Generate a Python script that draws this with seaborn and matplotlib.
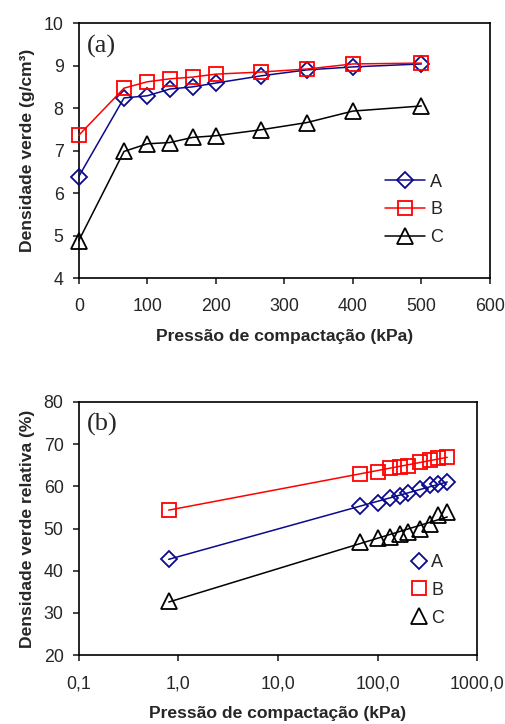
import matplotlib
matplotlib.use("Agg")
import matplotlib.pyplot as plt
from matplotlib.lines import Line2D
import seaborn as sns
import pandas as pd

# Compaction pressure (kPa)
pressure = [0, 66, 100, 133, 166, 200, 266, 333, 400, 500]
# Pressure used on the log axis (zero pressure shown at 0.8 kPa)
pressure_log = [0.8, 66, 100, 133, 166, 200, 266, 333, 400, 500]

# Green density (g/cm3)
dens_A = [6.39, 8.24, 8.29, 8.45, 8.50, 8.59, 8.76, 8.90, 8.97, 9.04]
dens_B = [7.36, 8.47, 8.62, 8.69, 8.73, 8.80, 8.85, 8.92, 9.04, 9.06]
dens_C = [4.88, 6.98, 7.16, 7.19, 7.31, 7.35, 7.49, 7.66, 7.93, 8.05]

# Relative green density (%)
rel_A = [42.8, 55.4, 56.0, 57.2, 57.6, 58.4, 59.4, 60.2, 60.5, 61.0]
rel_B = [54.5, 62.8, 63.4, 64.3, 64.6, 64.9, 65.7, 66.2, 66.7, 67.0]
rel_C = [32.8, 46.8, 47.8, 48.0, 48.8, 49.2, 50.0, 51.0, 53.2, 53.8]

series_names = ["A", "B", "C"]
colors = {"A": "#0a0a8c", "B": "#ff0000", "C": "#000000"}
markers = {"A": "D", "B": "s", "C": "^"}
msize = {"A": 8.5, "B": 10.5, "C": 12}

sns.set_style("ticks")
plt.rcParams["font.family"] = ["Liberation Sans", "DejaVu Sans"]
plt.rcParams["xtick.labelsize"] = 12.8
plt.rcParams["ytick.labelsize"] = 12.8
plt.rcParams["axes.linewidth"] = 1.2
plt.rcParams["xtick.major.width"] = 1.2
plt.rcParams["ytick.major.width"] = 1.2
plt.rcParams["xtick.major.size"] = 4
plt.rcParams["ytick.major.size"] = 4
plt.rcParams["xtick.major.pad"] = 10.5
plt.rcParams["ytick.major.pad"] = 7

label_kw = dict(fontsize=12.6, fontweight="bold")

fig = plt.figure(figsize=(5.05, 7.24), dpi=100)
ax1 = fig.add_axes([0.156, 0.616, 0.814, 0.352])
ax2 = fig.add_axes([0.156, 0.095, 0.789, 0.350])

df_a = pd.DataFrame({"p": pressure, "A": dens_A, "B": dens_B, "C": dens_C})
df_b = pd.DataFrame({"p": pressure_log, "A": rel_A, "B": rel_B, "C": rel_C})

# ---- (a) green density vs compaction pressure ----
for s in series_names:
    sns.lineplot(data=df_a, x="p", y=s, ax=ax1, color=colors[s], lw=1.1,
                 marker=markers[s], markersize=msize[s], markerfacecolor="none",
                 markeredgecolor=colors[s], markeredgewidth=1.3, label=s,
                 clip_on=False, zorder=3)
ax1.set_xlim(0, 600)
ax1.set_ylim(4, 10)
ax1.set_xticks(range(0, 601, 100))
ax1.set_yticks(range(4, 11, 1))
ax1.set_xlabel("Pressão de compactação (kPa)", labelpad=10, **label_kw)
ax1.set_ylabel("Densidade verde (g/cm³)", labelpad=6, **label_kw)
ax1.text(0.02, 0.955, "(a)", transform=ax1.transAxes, ha="left", va="top",
         fontsize=19, family="Liberation Serif")
ax1.legend(loc="upper left", bbox_to_anchor=(0.745, 0.41), frameon=False,
           fontsize=13, handlelength=2.2, handletextpad=0.3, labelspacing=0.6,
           borderpad=0, borderaxespad=0)

# ---- (b) relative green density vs compaction pressure (log scale) ----
ax2.set_xscale("log")
for s in series_names:
    sns.regplot(data=df_b, x="p", y=s, ax=ax2, logx=True, ci=None, scatter=False,
                line_kws={"color": colors[s], "lw": 1.1})
    sns.lineplot(data=df_b, x="p", y=s, ax=ax2, linestyle="", marker=markers[s],
                 markersize=msize[s], markerfacecolor="none",
                 markeredgecolor=colors[s], markeredgewidth=1.3, zorder=3)
ax2.set_xlim(0.1, 1000)
ax2.set_ylim(20, 80)
ax2.set_xticks([0.1, 1, 10, 100, 1000])
ax2.set_xticklabels(["0,1", "1,0", "10,0", "100,0", "1000,0"])
ax2.minorticks_off()
ax2.set_yticks(range(20, 81, 10))
ax2.set_xlabel("Pressão de compactação (kPa)", labelpad=10, **label_kw)
ax2.set_ylabel("Densidade verde relativa (%)", labelpad=6, **label_kw)
ax2.text(0.02, 0.955, "(b)", transform=ax2.transAxes, ha="left", va="top",
         fontsize=19, family="Liberation Serif")
handles = [Line2D([], [], linestyle="", marker=markers[s], markersize=msize[s],
                  markerfacecolor="none", markeredgecolor=colors[s],
                  markeredgewidth=1.3) for s in series_names]
ax2.legend(handles, series_names, loc="upper left", bbox_to_anchor=(0.83, 0.40),
           frameon=False, fontsize=13, handlelength=1.0, handletextpad=0.2,
           labelspacing=0.6, borderpad=0, borderaxespad=0)

for ax in (ax1, ax2):
    for sp in ax.spines.values():
        sp.set_visible(True)
        sp.set_color("black")

fig.savefig("out.png", dpi=100, facecolor="white")
